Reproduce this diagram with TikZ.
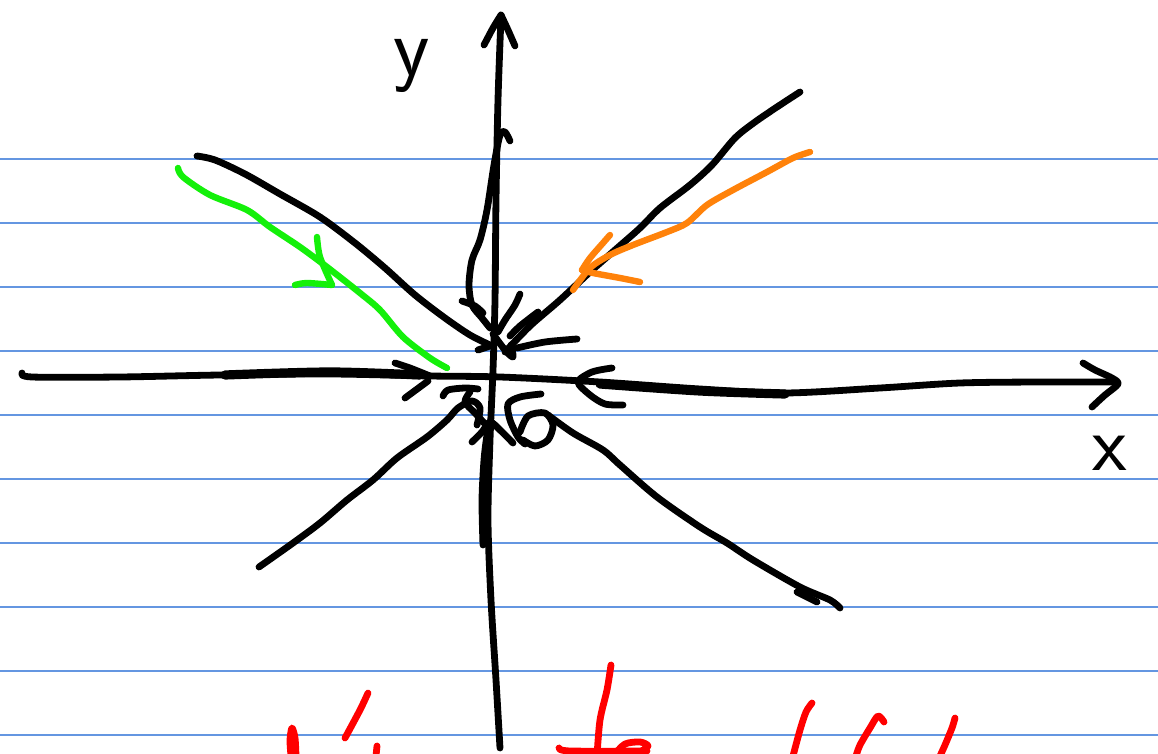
\documentclass[tikz,border=0pt]{standalone}
\begin{document}
\begin{tikzpicture}[x=0.5pt,y=-0.5pt,line cap=round,line join=round,
  rule/.style={draw={rgb,255:red,100;green,150;blue,225},line width=0.8pt},
  ink/.style={draw=black,line width=3.4pt},
  thick ink/.style={draw=black,line width=4.6pt},
  greenink/.style={draw={rgb,255:red,20;green,240;blue,10},line width=3.2pt},
  orangeink/.style={draw={rgb,255:red,255;green,130;blue,10},line width=3.2pt},
  redink/.style={draw={rgb,255:red,255;green,0;blue,0},line width=3.4pt},
  lbl/.style={inner sep=0pt,font=\sffamily}]
\useasboundingbox (0,0) rectangle (1158,754);
\clip (0,0) rectangle (1158,754);
\fill[white] (0,0) rectangle (1158,754);
% ruled lines
\foreach \yy in {159,223,287,351,415,479,543,607,671,735}
  \draw[rule] (0,\yy) -- (1158,\yy);
% x axis
\draw[ink] plot[smooth] coordinates {(22,373) (32,377) (120,377) (220,375) (330,374) (430,376) (500,377) (600,382) (700,389) (785,393) (880,388) (960,383) (1040,382) (1115,382)};
\draw[thick ink] plot[smooth] coordinates {(225,375) (330,372) (420,375)};
\draw[thick ink] plot[smooth] coordinates {(600,384) (700,391) (785,394)};
\draw[ink] plot[smooth] coordinates {(1083,363) (1095,370) (1112,378) (1118,384) (1105,395) (1092,407)};
\draw[ink] plot[smooth] coordinates {(395,363) (410,368) (430,376)};
\draw[ink] (405,398) -- (428,381);
\draw[ink] plot[smooth] coordinates {(612,368) (592,372) (578,382) (590,395) (605,404) (623,405)};
% y axis
\draw[ink] plot[smooth] coordinates {(500,748) (496,680) (491,600) (488,520) (490,440) (493,370) (495,300) (496,200) (498,100) (501,17)};
\draw[ink] plot[smooth] coordinates {(484,45) (493,28) (501,15)};
\draw[ink] plot[smooth] coordinates {(501,15) (508,30) (515,46)};
% labels
\node[lbl,anchor=base,font=\sffamily\fontsize{42}{42}\selectfont] (ylabel) at (412,76) {y};
\node[lbl,font=\sffamily\fontsize{40}{40}\selectfont] (xlabel) at (1110,453) {x};
% curve from above
\draw[ink] plot[smooth] coordinates {(510,141) (505,132) (500,135) (494,165) (487,210) (480,240) (472,260) (469,285) (472,305) (482,318) (490,328)};
\draw[ink] plot[smooth] coordinates {(462,301) (475,306) (483,313)};
% upper left curve
\draw[ink] plot[smooth] coordinates {(197,156) (215,160) (245,174) (280,194) (320,217) (355,243) (385,268) (415,295) (445,318) (470,335) (490,345)};
\draw[ink] (478,350) -- (490,346);
% upper right curve
\draw[ink] plot[smooth] coordinates {(800,92) (780,105) (755,122) (735,138) (712,165) (690,185) (660,208) (640,228) (615,250) (590,272) (560,300) (530,326) (505,352)};
\draw[ink] plot[smooth] coordinates {(520,294) (515,305) (505,320) (498,332)};
\draw[ink] plot[smooth] coordinates {(538,312) (520,326) (510,336)};
\draw[ink] plot[smooth] coordinates {(577,339) (545,342) (517,348)};
\draw[ink] plot[smooth] coordinates {(493,334) (505,350) (513,357) (511,345)};
% lower left curve
\draw[ink] plot[smooth] coordinates {(259,567) (293,543) (320,523) (347,500) (373,480) (397,458) (427,437) (447,420) (458,408) (472,401) (480,408) (477,425)};
\draw[ink] plot[smooth] coordinates {(443,396) (448,390) (465,388) (478,389)};
\draw[ink] plot[smooth] coordinates {(470,392) (465,402) (475,413) (486,425)};
% curve from below
\draw[ink] plot[smooth] coordinates {(483,545) (482,500) (484,460) (487,435) (490,422)};
\draw[ink] plot[smooth] coordinates {(472,442) (482,432) (490,422) (500,430) (513,443)};
% lower right curve
\draw[ink] plot[smooth] coordinates {(541,394) (520,397) (508,404) (510,420) (518,437) (525,444)};
\draw[ink] plot[smooth] coordinates {(520,432) (528,416) (545,413) (553,425) (548,440) (535,446) (523,440)};
\draw[ink] plot[smooth] coordinates {(548,415) (573,433) (603,450) (620,465) (657,497) (700,527) (727,543) (753,560) (800,587) (830,600) (840,608)};
\draw[ink] (797,592) -- (817,602);
% green
\draw[greenink] plot[smooth] coordinates {(178,168) (183,177) (210,195) (247,210) (270,227) (300,247) (327,267) (360,293) (380,310) (403,337) (430,358) (447,368)};
\draw[greenink] plot[smooth] coordinates {(317,237) (320,257) (332,285)};
\draw[greenink] plot[smooth] coordinates {(332,285) (307,283) (295,285)};
% orange
\draw[orangeink] plot[smooth] coordinates {(810,152) (793,158) (767,172) (733,190) (707,205) (687,223) (667,232) (633,245) (610,255) (590,268) (573,290)};
\draw[orangeink] plot[smooth] coordinates {(610,235) (603,243) (590,258) (582,270)};
\draw[orangeink] plot[smooth] coordinates {(582,270) (593,273) (620,278) (640,282)};
% red strokes at bottom
\draw[redink] plot[smooth] coordinates {(291,756) (290,740) (292,728) (295,738) (296,756)};
\draw[redink] plot[smooth] coordinates {(368,693) (360,710) (345,738)};
\draw[redink] (377,746) -- (376,756);
\draw[redink] plot[smooth] coordinates {(611,665) (607,690) (600,720) (597,756)};
\draw[redink] plot[smooth] coordinates {(559,748) (570,751) (647,751)};
\draw[redink] plot[smooth] coordinates {(615,754) (625,744) (640,742) (648,746) (640,752)};
\draw[redink] plot[smooth] coordinates {(812,703) (806,712) (800,730) (793,756)};
\draw[redink] plot[smooth] coordinates {(884,722) (878,716) (870,728) (860,745) (856,756)};
\draw[redink] plot[smooth] coordinates {(955,718) (952,728) (945,745) (940,756)};
\end{tikzpicture}
\end{document}
